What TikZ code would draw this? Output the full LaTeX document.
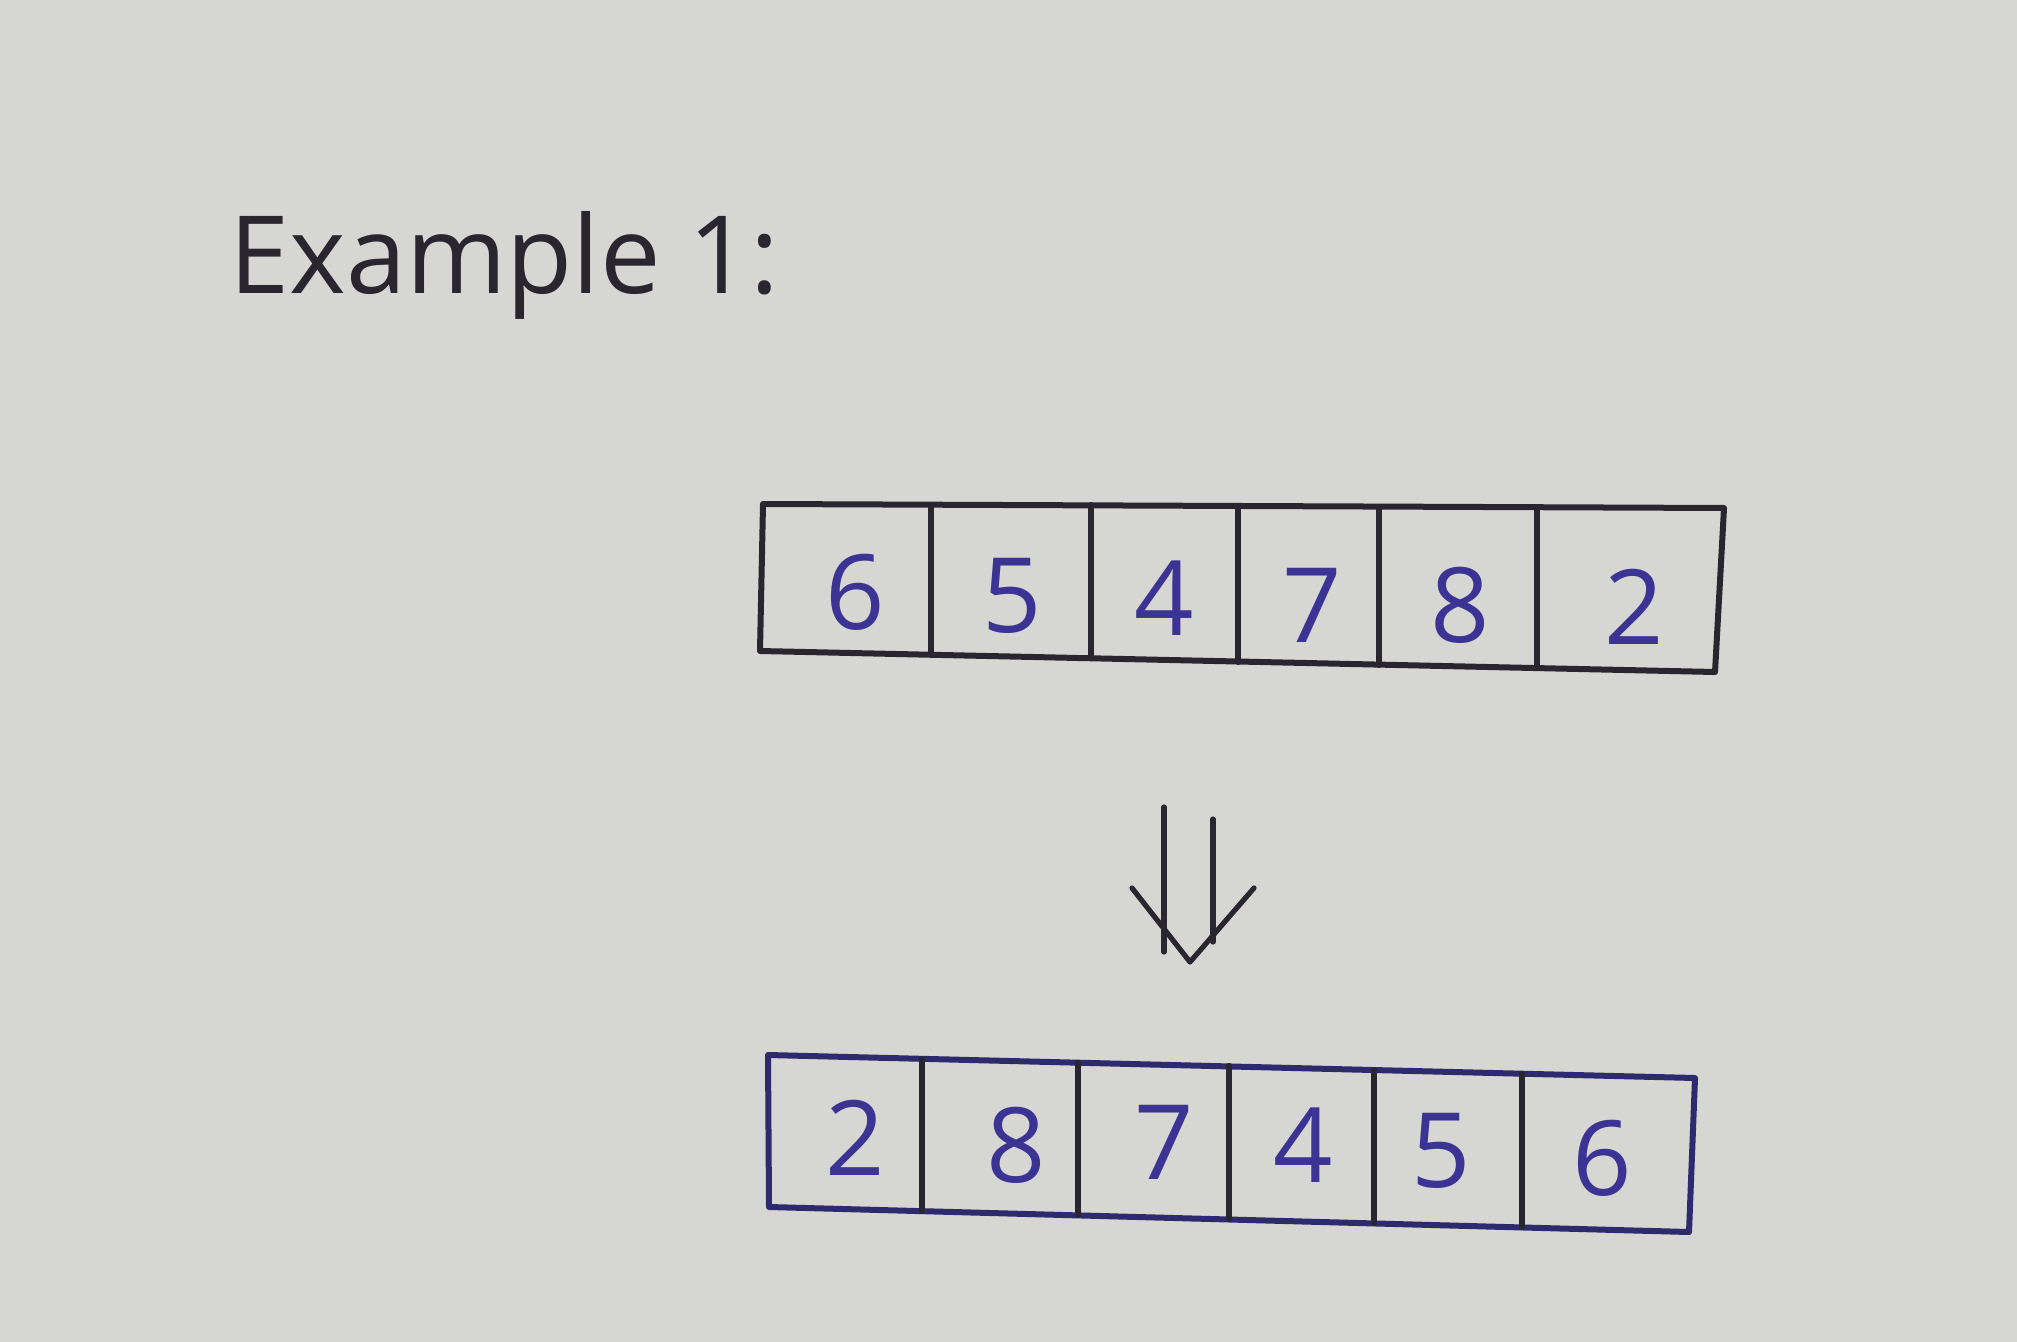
\documentclass[tikz,border=0pt]{standalone}
\usepackage{fontspec}
\setmainfont{Open Sans}
\definecolor{paper}{HTML}{D6D7D2}
\definecolor{ink}{HTML}{2A2630}
\definecolor{blueink}{HTML}{3B3494}
\definecolor{navy}{HTML}{2E2A6E}
\tikzset{
  boxline/.style={draw=ink, line width=3pt, line cap=round, line join=round},
  navyline/.style={draw=navy, line width=3pt, line cap=round, line join=round},
  digit/.style={text=blueink, font=\fontsize{52}{52}\selectfont, inner sep=0pt},
  arrowline/.style={draw=ink, line width=2.6pt, line cap=round, line join=round}
}
\begin{document}
\begin{tikzpicture}[x=0.5pt,y=-0.5pt]
\fill[paper] (0,0) rectangle (2017,1342);
\useasboundingbox (0,0) rectangle (2017,1342);
% title
\node[text=ink, font=\fontsize{54}{54}\selectfont, anchor=base west, inner sep=0pt] (title) at (229,294) {Example 1:};
% top array
\coordinate (t0) at (763,504); \coordinate (t6) at (1724,508);
\coordinate (b0) at (760,651); \coordinate (b6) at (1715,672);
\draw[boxline] (t0) -- (t6) -- (b6) -- (b0) -- cycle;
\foreach \x/\yt/\yb [count=\i] in {931/505/655, 1091/505/658, 1238/506/662, 1379/507/665, 1537/507/668}{
  \coordinate (tt\i) at (\x,\yt); \coordinate (tb\i) at (\x,\yb);
  \draw[boxline] (tt\i) -- (tb\i);
}
\node[digit] (a1) at (855,592) {6};
\node[digit] (a2) at (1012,596) {5};
\node[digit] (a3) at (1164,598) {4};
\node[digit] (a4) at (1312,605) {7};
\node[digit] (a5) at (1460,605) {8};
\node[digit] (a6) at (1634,607) {2};
% arrow
\coordinate (s1a) at (1164,807); \coordinate (s1b) at (1164,952);
\coordinate (s2a) at (1213,819); \coordinate (s2b) at (1213,942);
\coordinate (wl) at (1132,888); \coordinate (tip) at (1190,962); \coordinate (wr) at (1254,888);
\draw[arrowline] (s1a) -- (s1b);
\draw[arrowline] (s2a) -- (s2b);
\draw[arrowline] (wl) -- (tip) -- (wr);
% bottom array
\coordinate (u0) at (768,1055); \coordinate (u6) at (1695,1078);
\coordinate (v0) at (769,1207); \coordinate (v6) at (1689,1232);
\draw[navyline] (u0) -- (u6) -- (v6) -- (v0) -- cycle;
\foreach \x/\yt/\yb [count=\i] in {922/1059/1211, 1078/1063/1215, 1229/1066/1219, 1374/1070/1223, 1522/1074/1227}{
  \coordinate (ut\i) at (\x,\yt); \coordinate (ub\i) at (\x,\yb);
  \draw[boxline] (ut\i) -- (ub\i);
}
\node[digit] (c1) at (855,1138) {2};
\node[digit] (c2) at (1016,1145) {8};
\node[digit] (c3) at (1164,1142) {7};
\node[digit] (c4) at (1303,1145) {4};
\node[digit] (c5) at (1441,1151) {5};
\node[digit] (c6) at (1602,1158) {6};
\end{tikzpicture}
\end{document}
